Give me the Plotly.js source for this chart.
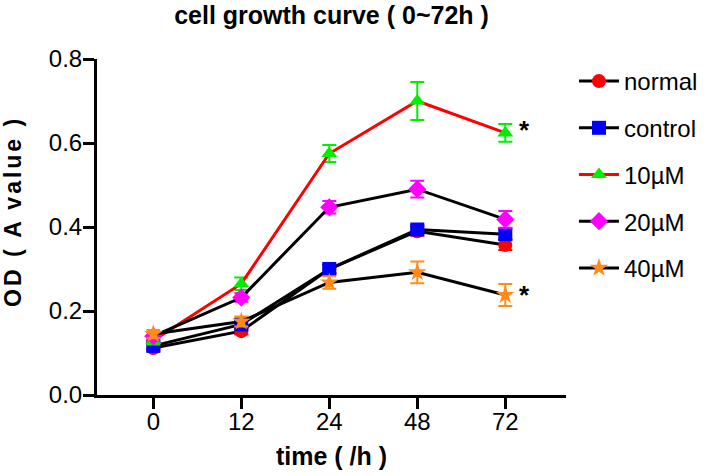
<!DOCTYPE html>
<html><head><meta charset="utf-8">
<script src="https://cdn.plot.ly/plotly-3.0.1.min.js"></script>
<style>html,body{margin:0;padding:0;background:#fff}#c{width:708px;height:476px}</style>
</head><body><div id="c"></div>
<script>
const times = ['0','12','24','48','72'];
const seriesNames = ['normal','control','10µM','20µM','40µM'];
const normal = [0.112, 0.152, 0.300, 0.390, 0.357];
const normalErr = [0.008, 0.008, 0.010, 0.010, 0.012];
const control = [0.117, 0.168, 0.300, 0.394, 0.383];
const controlErr = [0.008, 0.010, 0.010, 0.010, 0.012];
const uM10 = [0.130, 0.265, 0.575, 0.700, 0.624];
const uM10Err = [0.010, 0.015, 0.020, 0.045, 0.021];
const uM20 = [0.140, 0.232, 0.447, 0.490, 0.418];
const uM20Err = [0.010, 0.010, 0.015, 0.020, 0.020];
const uM40 = [0.145, 0.175, 0.268, 0.292, 0.238];
const uM40Err = [0.010, 0.012, 0.015, 0.026, 0.026];
const starLabels = ['*', '*'];
const titleText = 'cell growth curve ( 0~72h )';
const xTitle = 'time ( /h )';
const yTitle = 'OD ( A value )';

const F = 'Arial, "Liberation Sans", Helvetica, sans-serif';
function tr(name, y, err, lineColor, sym, mColor, errColor) {
  return {
    x: times, y: y, name: name, legendgroup: name, type: 'scatter', mode: 'lines+markers',
    line: {color: lineColor, width: 3},
    marker: {symbol: sym, color: mColor, size: 14, line: {width: 0}},
    error_y: {type: 'data', array: err, visible: true, color: errColor, thickness: 2, width: 7},
    cliponaxis: false
  };
}
const data = [
  tr(seriesNames[0], normal, normalErr, '#000000', 'circle', '#ff0000', '#ff0000'),
  tr(seriesNames[1], control, controlErr, '#000000', 'square', '#0000ff', '#0000ff'),
  tr(seriesNames[2], uM10, uM10Err, '#ff0000', 'triangle-up', '#00ee00', '#00ee00'),
  tr(seriesNames[3], uM20, uM20Err, '#000000', 'diamond', '#ff00ff', '#ff00ff'),
  tr(seriesNames[4], uM40, uM40Err, '#000000', 'star', '#ff8c1a', '#ff8c1a')
];
const lastIdx = times.length - 1; // category index of the last time point
const layout = {
  width: 708, height: 476,
  margin: {l: 97, r: 142, t: 59, b: 81, autoexpand: false},
  paper_bgcolor: '#fff', plot_bgcolor: '#fff',
  font: {family: F, color: '#000'},
  title: {text: '<b>' + titleText + '</b>', font: {size: 25, family: F, color: '#000'}, x: 0.5, xref: 'paper', y: 0.968, yanchor: 'middle'},
  xaxis: {
    type: 'category', range: [-0.64, 4.69], showgrid: false, zeroline: false,
    showline: true, linecolor: '#000', linewidth: 3,
    ticks: 'outside', ticklen: 11, tickwidth: 3, tickcolor: '#000',
    ticklabelstandoff: -8,
    tickfont: {size: 24, family: F},
    title: {text: '<b>' + xTitle + '</b>', font: {size: 25, family: F}, standoff: 14}
  },
  yaxis: {
    range: [0, 0.8], dtick: 0.2, tickformat: '.1f', showgrid: false, zeroline: false,
    showline: true, linecolor: '#000', linewidth: 3,
    ticks: 'outside', ticklen: 11, tickwidth: 3, tickcolor: '#000',
    ticklabelstandoff: -4,
    tickfont: {size: 24, family: F}
  },
  legend: {x: 1.017, xanchor: 'left', y: 1.0, yanchor: 'top', itemwidth: 40, font: {size: 24, family: F}, tracegroupgap: 12.5, bgcolor: 'rgba(0,0,0,0)'},
  showlegend: true,
  annotations: [
    {xref: 'x', yref: 'y', x: lastIdx, y: uM10[lastIdx], text: '<b>' + starLabels[0] + '</b>', showarrow: false, xshift: 19, yshift: 3, font: {size: 26, family: F}},
    {xref: 'x', yref: 'y', x: lastIdx, y: uM40[lastIdx], text: '<b>' + starLabels[1] + '</b>', showarrow: false, xshift: 19, yshift: 0, font: {size: 26, family: F}},
    {xref: 'paper', yref: 'paper', x: 0, y: 0.545, xshift: -84, xanchor: 'center', yanchor: 'middle', textangle: -90, showarrow: false,
     text: '<span style="letter-spacing:3px"><b>' + yTitle + '</b></span>', font: {size: 23, family: F}}
  ]
};
Plotly.newPlot('c', data, layout, {displayModeBar: false, staticPlot: true});
</script></body></html>
